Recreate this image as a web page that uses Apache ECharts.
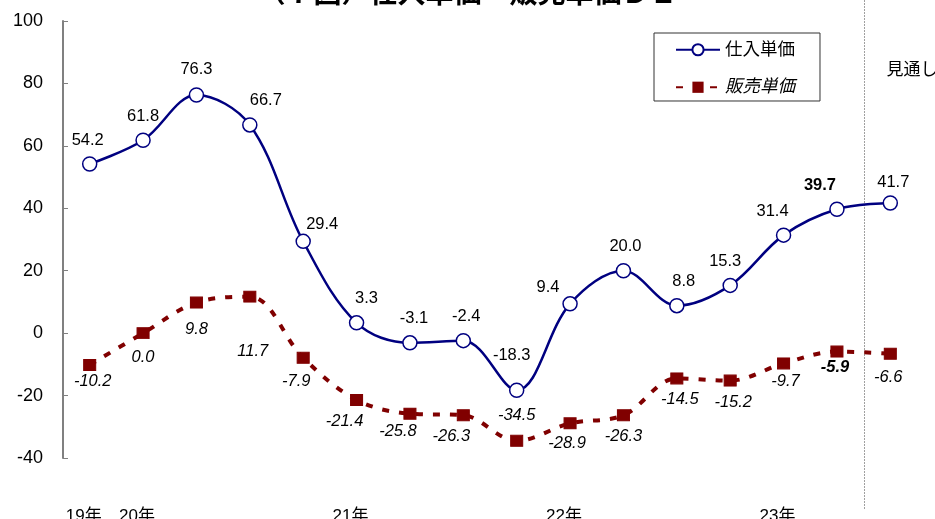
<!DOCTYPE html>
<html>
<head>
<meta charset="utf-8">
<script src="https://cdn.jsdelivr.net/npm/echarts@6/dist/echarts.min.js"></script>
<style>html,body{margin:0;padding:0;background:#fff}#c{width:935px;height:519px}</style>
</head>
<body>
<div id="c"></div>
<script>
// ---- data ----
const categories = ['19年','20年','','','','21年','','','','22年','','','','23年','',''];
const purchasePrice = [54.2, 61.8, 76.3, 66.7, 29.4, 3.3, -3.1, -2.4, -18.3, 9.4, 20.0, 8.8, 15.3, 31.4, 39.7, 41.7];
const sellingPrice = [-10.2, 0.0, 9.8, 11.7, -7.9, -21.4, -25.8, -26.3, -34.5, -28.9, -26.3, -14.5, -15.2, -9.7, -5.9, -6.6];
const seriesNames = ['仕入単価', '販売単価'];
const yTicks = [-40, -20, 0, 20, 40, 60, 80, 100];
const titleText = '（７図）仕入単価・販売単価ＤＩ';
const forecastLabel = '見通し';
const boldIndex = 14;

// ---- label style tweaks (layout only) ----
const off1 = [[-2,0],[0,0],[0,-2],[16,0],[19,7],[10,0],[4,0],[3,0],[-5,-11],[-22,8],[2,0],[7,0],[-5,0],[-11,0],[-17,0],[3,3]];
const off2 = [[3,-4],[0,4],[0,7],[3,35],[-7,3],[-12,1],[-12,-2],[-12,1],[0,-46],[-3,0],[0,1],[3,1],[3,2],[2,-2],[-2,-4],[-2,3]];

const FONT = '"Liberation Sans", Arial, "Noto Sans CJK JP", sans-serif';
const NAVY = '#000080';
const MAROON = '#800000';

const chart = echarts.init(document.getElementById('c'));

const d1 = purchasePrice.map((v, i) => ({
  value: v,
  label: { offset: off1[i], fontWeight: i === boldIndex ? 'bold' : 'normal' }
}));
const d2 = sellingPrice.map((v, i) => ({
  value: v,
  label: { offset: off2[i], fontWeight: i === boldIndex ? 'bold' : 'normal' }
}));

const option = {
  animation: false,
  backgroundColor: '#fff',
  textStyle: { fontFamily: FONT },
  title: {
    text: titleText,
    left: 'center',
    top: -24,
    textStyle: { fontSize: 28, fontWeight: 'bold', color: '#000', fontFamily: FONT }
  },
  grid: { left: 63, right: 18, top: 21, bottom: 61, containLabel: false, outerBoundsMode: 'none' },
  legend: {
    orient: 'vertical',
    left: 654,
    top: 33,
    itemWidth: 44,
    itemHeight: 14,
    itemGap: 20,
    padding: [8, 25, 5, 21],
    borderColor: '#333',
    borderWidth: 1,
    backgroundColor: '#fff',
    textStyle: { fontSize: 17.5, color: '#000', fontFamily: FONT },
    data: [
      { name: seriesNames[0] },
      { name: seriesNames[1], textStyle: { fontStyle: 'italic' } }
    ]
  },
  xAxis: {
    type: 'category',
    data: categories,
    boundaryGap: true,
    axisLine: { show: false },
    axisTick: { show: false },
    splitLine: { show: false },
    axisLabel: {
      interval: 0,
      margin: 50,
      fontSize: 17,
      color: '#000',
      padding: [0, 12, 0, 0],
      fontFamily: FONT
    }
  },
  yAxis: {
    type: 'value',
    min: -40,
    max: 100,
    interval: 20,
    axisLine: { show: true, lineStyle: { color: '#808080', width: 2 } },
    axisTick: { show: true, inside: true, length: 5, lineStyle: { color: '#808080', width: 1 } },
    splitLine: { show: false },
    axisLabel: {
      fontSize: 18,
      color: '#000',
      margin: 20,
      fontFamily: FONT,
      formatter: v => yTicks.includes(v) ? String(v) : ''
    }
  },
  series: [
    {
      name: seriesNames[0],
      type: 'line',
      data: d1,
      smooth: 0.35,
      symbol: 'circle',
      symbolSize: 14,
      z: 3,
      lineStyle: { color: NAVY, width: 2.5 },
      itemStyle: { color: '#fff', borderColor: NAVY, borderWidth: 1.5 },
      label: {
        show: true,
        position: 'top',
        distance: 8,
        fontSize: 16.5,
        color: '#000',
        fontFamily: FONT,
        formatter: p => Number(p.value).toFixed(1)
      }
    },
    {
      name: seriesNames[1],
      type: 'line',
      data: d2,
      smooth: 0.35,
      symbol: 'rect',
      symbolSize: [12, 11],
      z: 2,
      lineStyle: { color: MAROON, width: 4, type: [7, 10] },
      itemStyle: { color: MAROON, borderColor: MAROON },
      label: {
        show: true,
        position: 'bottom',
        distance: 6,
        fontSize: 16.5,
        fontStyle: 'italic',
        color: '#000',
        fontFamily: FONT,
        formatter: p => Number(p.value).toFixed(1)
      }
    }
  ]
};

chart.setOption(option);

// Forecast divider between the last two categories, located through the axis scale
const xa = chart.convertToPixel({ xAxisIndex: 0 }, 14);
const xb = chart.convertToPixel({ xAxisIndex: 0 }, 15);
const xm = Math.round((xa + xb) / 2) + 0.5;
chart.setOption({
  graphic: [
    {
      type: 'line',
      shape: { x1: xm, y1: 0, x2: xm, y2: 510 },
      style: { stroke: '#a0a0a0', lineWidth: 1, lineDash: [2, 1] },
      z: 1
    },
    {
      type: 'text',
      x: xm + 22,
      y: 70,
      style: { text: forecastLabel, fill: '#000', font: '17px ' + FONT, verticalAlign: 'middle' },
      z: 5
    }
  ]
});
</script>
</body>
</html>
